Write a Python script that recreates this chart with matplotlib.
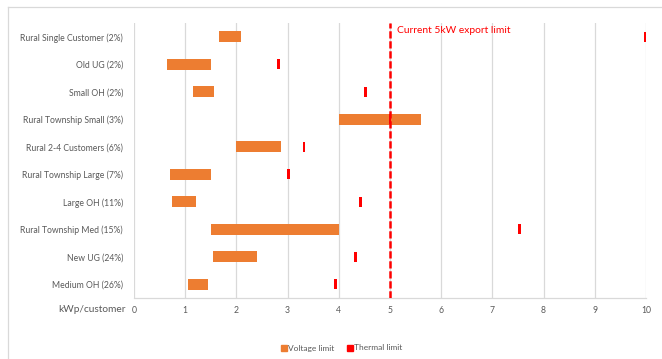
import matplotlib
matplotlib.use("Agg")
import matplotlib.pyplot as plt
from matplotlib.lines import Line2D

plt.rcParams['font.family'] = ['Lato', 'DejaVu Sans']
plt.rcParams['lines.scale_dashes'] = False

# Network categories, top to bottom
categories = [
    "Rural Single Customer (2%)",
    "Old UG (2%)",
    "Small OH (2%)",
    "Rural Township Small (3%)",
    "Rural 2-4 Customers (6%)",
    "Rural Township Large (7%)",
    "Large OH (11%)",
    "Rural Township Med (15%)",
    "New UG (24%)",
    "Medium OH (26%)",
]
# Voltage limit range (kWp/customer)
voltage_low = [1.66, 0.64, 1.15, 4.00, 1.99, 0.70, 0.74, 1.50, 1.54, 1.05]
voltage_high = [2.09, 1.50, 1.56, 5.60, 2.87, 1.50, 1.21, 4.00, 2.40, 1.45]
# Thermal limit (kWp/customer)
thermal = [9.98, 2.83, 4.52, 5.00, 3.32, 3.02, 4.42, 7.53, 4.32, 3.93]
export_limit = 5
x_ticks = list(range(0, 11))

ORANGE = "#ED7D31"
RED = "#FF0000"
GRID = "#D9D9D9"
TEXT = "#595959"

W, H = 662, 359
fig = plt.figure(figsize=(W / 100, H / 100), dpi=100)
ax = fig.add_axes([134 / W, 1 - 298 / H, (646 - 134) / W, (298 - 23) / H])

n = len(categories)
ypos = [n - 1 - i for i in range(n)]
widths = [h - l for l, h in zip(voltage_low, voltage_high)]
ax.barh(ypos, widths, left=voltage_low, height=0.4, color=ORANGE, zorder=3)
tw = 0.055
ax.barh(ypos, [tw] * n, left=[t - tw / 2 for t in thermal], height=0.38,
        color=RED, zorder=3)

ax.axvline(export_limit, color=RED, lw=1.8, dashes=(5.2, 2.0), zorder=4)
ax.text(export_limit + 0.14, 9.22, "Current 5kW export limit", color=RED,
        fontsize=7.4, va="center", ha="left", zorder=5)

ax.set_xlim(0, 10)
ax.set_ylim(-0.5, n - 0.5)
ax.set_xticks(x_ticks)
ax.set_xticklabels([str(t) for t in x_ticks])
ax.set_yticks(ypos)
ax.set_yticklabels(categories)
ax.tick_params(axis="both", length=0, labelsize=6.2, colors=TEXT)
ax.tick_params(axis="x", pad=6)
ax.tick_params(axis="y", pad=8)
ax.grid(axis="x", color=GRID, lw=0.9, zorder=0)
for s in ["top", "right", "left"]:
    ax.spines[s].set_visible(False)
ax.spines["bottom"].set_color(GRID)
ax.spines["bottom"].set_linewidth(0.9)

fig.text(58 / W, 1 - 310 / H, "kWp/customer", fontsize=7.3, color=TEXT,
         ha="left", va="center")

handles = [
    Line2D([], [], marker="s", ls="none", color=ORANGE, markersize=4.2),
    Line2D([], [], marker="s", ls="none", color=RED, markersize=4.2),
]
fig.legend(handles, ["Voltage limit", "Thermal limit"], loc="center",
           bbox_to_anchor=(342 / W, 1 - 348 / H), ncol=2, frameon=False,
           fontsize=6.0, handlelength=0.6, handletextpad=0.2,
           columnspacing=1.5, labelcolor=TEXT)

# Chart area border
fig.add_artist(Line2D([8 / W, 8 / W], [0, 1 - 7 / H], color=GRID, lw=0.9,
                      transform=fig.transFigure))
fig.add_artist(Line2D([8 / W, 1], [1 - 7 / H, 1 - 7 / H], color=GRID, lw=0.9,
                      transform=fig.transFigure))

fig.savefig("out.png", dpi=100, facecolor="white")
